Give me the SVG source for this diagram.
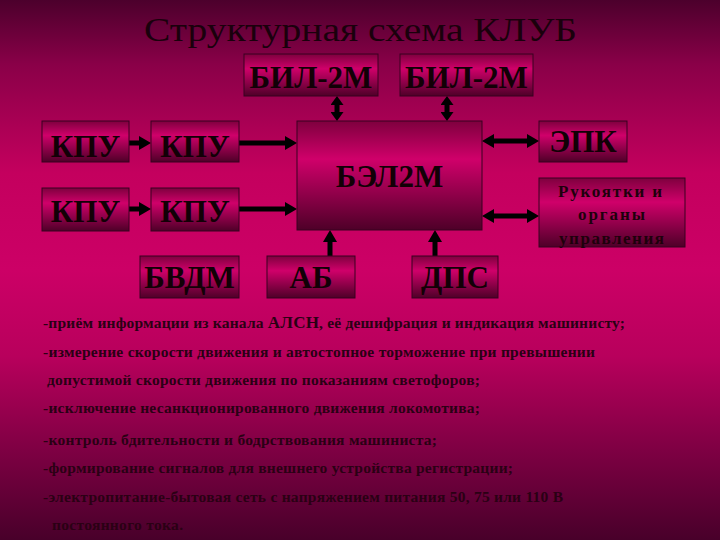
<svg xmlns="http://www.w3.org/2000/svg" width="720" height="540" viewBox="0 0 720 540">
<defs>
<linearGradient id="bg" x1="0" y1="0" x2="0" y2="1">
<stop offset="0" stop-color="#4c002c"/>
<stop offset="0.12" stop-color="#8a0048"/>
<stop offset="0.32" stop-color="#c4005e"/>
<stop offset="0.5" stop-color="#cc0066"/>
<stop offset="0.66" stop-color="#b8005c"/>
<stop offset="0.84" stop-color="#7c0042"/>
<stop offset="1" stop-color="#48002a"/>
</linearGradient>
<linearGradient id="box" x1="0" y1="0" x2="0" y2="1">
<stop offset="0" stop-color="#7e003e"/>
<stop offset="0.35" stop-color="#d0006a"/>
<stop offset="1" stop-color="#4e0028"/>
</linearGradient>
<marker id="ah" viewBox="0 0 12 14" refX="0" refY="7" markerWidth="12" markerHeight="14" markerUnits="userSpaceOnUse" orient="auto-start-reverse">
<path d="M0,0 L12,7 L0,14 z" fill="#000"/>
</marker>
<marker id="ahs" viewBox="0 0 9 13" refX="0" refY="6.5" markerWidth="9" markerHeight="13" markerUnits="userSpaceOnUse" orient="auto-start-reverse">
<path d="M0,0 L9,6.5 L0,13 z" fill="#000"/>
</marker>
</defs>
<style>
.b{fill:url(#box);stroke:#3a0020;stroke-width:1}
.t{font-family:"Liberation Serif","Times New Roman",serif;font-weight:bold;font-size:31px;fill:#120006;text-anchor:middle}
.s{font-family:"Liberation Serif","Times New Roman",serif;font-weight:bold;font-size:17px;fill:#1e000c;text-anchor:middle}
.l{font-family:"Liberation Serif","Times New Roman",serif;font-weight:bold;font-size:15.5px;fill:#2a0014}
.c{stroke:#000;stroke-width:5;fill:none}
</style>
<rect x="0" y="0" width="720" height="540" fill="url(#bg)"/>
<text x="144" y="41" textLength="433" lengthAdjust="spacingAndGlyphs" style="font-family:'Liberation Serif','Times New Roman',serif;font-size:33px;fill:#1a000c">Структурная схема КЛУБ</text>

<g id="connectors">
<line class="c" x1="129" y1="143" x2="139" y2="143" marker-end="url(#ah)"/>
<line class="c" x1="239" y1="143" x2="285" y2="143" marker-end="url(#ah)"/>
<line class="c" x1="129" y1="209" x2="139" y2="209" marker-end="url(#ah)"/>
<line class="c" x1="239" y1="209" x2="285" y2="209" marker-end="url(#ah)"/>
<line class="c" x1="330" y1="256" x2="330" y2="242" marker-end="url(#ah)"/>
<line class="c" x1="435" y1="256" x2="435" y2="242" marker-end="url(#ah)"/>
<line class="c" x1="337" y1="105" x2="337" y2="112" marker-start="url(#ahs)" marker-end="url(#ahs)"/>
<line class="c" x1="447" y1="105" x2="447" y2="112" marker-start="url(#ahs)" marker-end="url(#ahs)"/>
<line class="c" x1="494" y1="141" x2="527" y2="141" marker-start="url(#ah)" marker-end="url(#ah)"/>
<line class="c" x1="494" y1="216" x2="527" y2="216" marker-start="url(#ah)" marker-end="url(#ah)"/>
</g>

<g id="bil1"><rect class="b" x="244" y="54" width="134" height="42"/><text class="t" x="311" y="88">БИЛ-2М</text></g>
<g id="bil2"><rect class="b" x="400" y="54" width="133" height="42"/><text class="t" x="466.5" y="88">БИЛ-2М</text></g>
<g id="bel2m"><rect class="b" x="297" y="121" width="185" height="109"/><text class="t" x="389.5" y="187">БЭЛ2М</text></g>
<g id="kpu1"><rect class="b" x="42" y="121" width="87" height="41"/><text class="t" x="85.5" y="157">КПУ</text></g>
<g id="kpu2"><rect class="b" x="151" y="121" width="88" height="41"/><text class="t" x="195" y="157">КПУ</text></g>
<g id="kpu3"><rect class="b" x="42" y="188" width="87" height="43"/><text class="t" x="85.5" y="222">КПУ</text></g>
<g id="kpu4"><rect class="b" x="151" y="188" width="88" height="43"/><text class="t" x="195" y="222">КПУ</text></g>
<g id="bvdm"><rect class="b" x="140" y="256" width="99" height="42"/><text class="t" x="189.5" y="288">БВДМ</text></g>
<g id="ab"><rect class="b" x="267" y="256" width="88" height="42"/><text class="t" x="311" y="288">АБ</text></g>
<g id="dps"><rect class="b" x="412" y="256" width="86" height="42"/><text class="t" x="455" y="288">ДПС</text></g>
<g id="epk"><rect class="b" x="539" y="121" width="88" height="41"/><text class="t" x="583" y="152">ЭПК</text></g>
<g id="ruk"><rect class="b" x="539" y="178" width="146" height="69"/>
<text class="s" x="610" y="197" textLength="104" lengthAdjust="spacing">Рукоятки и</text>
<text class="s" x="611.5" y="220" textLength="67" lengthAdjust="spacing">органы</text>
<text class="s" x="611.5" y="244" textLength="105" lengthAdjust="spacing">управления</text></g>

<g id="list">
<text class="l" x="43" y="328" textLength="582" lengthAdjust="spacing">-приём информации из канала <tspan style="font-size:17px">АЛСН</tspan>, её дешифрация и индикация машинисту;</text>
<text class="l" x="43" y="357" textLength="552" lengthAdjust="spacing">-измерение скорости движения и автостопное торможение при превышении</text>
<text class="l" x="47" y="385" textLength="433" lengthAdjust="spacing">допустимой скорости движения по показаниям светофоров;</text>
<text class="l" x="43" y="413" textLength="437" lengthAdjust="spacing">-исключение несанкционированного движения локомотива;</text>
<text class="l" x="43" y="445" textLength="394" lengthAdjust="spacing">-контроль бдительности и бодрствования машиниста;</text>
<text class="l" x="43" y="473" textLength="470" lengthAdjust="spacing">-формирование сигналов для внешнего устройства регистрации;</text>
<text class="l" x="43" y="502" textLength="520" lengthAdjust="spacing">-электропитание-бытовая сеть с напряжением питания 50, 75 или 110 В</text>
<text class="l" x="52" y="530" textLength="131" lengthAdjust="spacing">постоянного тока.</text>
</g>
</svg>
